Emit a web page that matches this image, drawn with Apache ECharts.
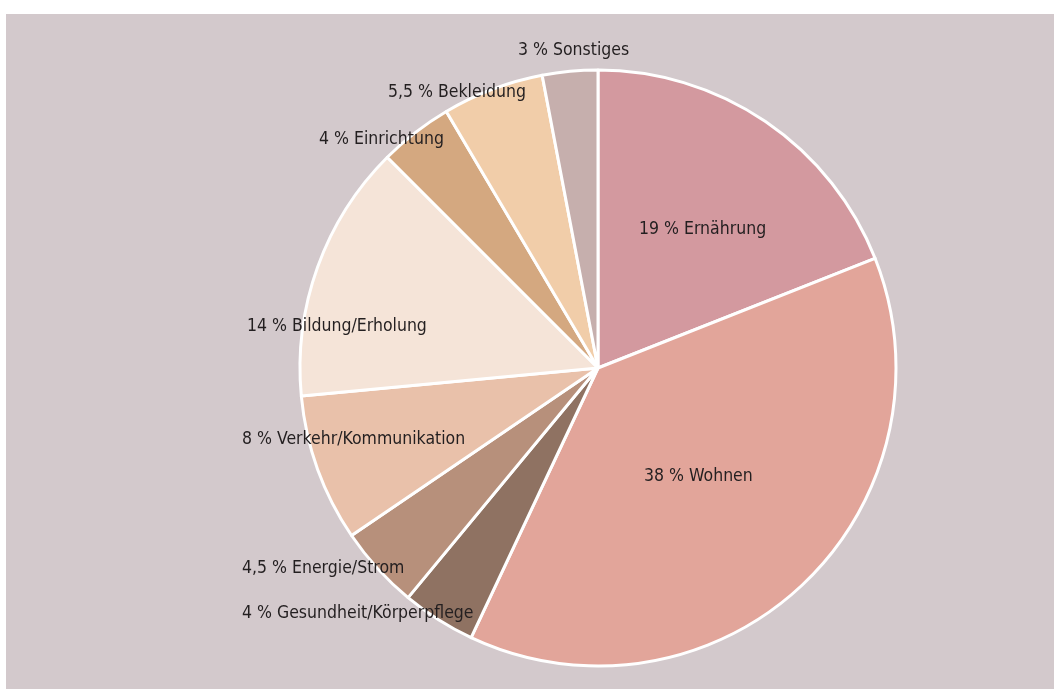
<!DOCTYPE html>
<html>
<head>
<meta charset="utf-8">
<script src="https://cdn.jsdelivr.net/npm/echarts@6/dist/echarts.min.js"></script>
<style>
html,body{margin:0;padding:0;background:#ffffff;}
#chart{width:1054px;height:689px;}
</style>
</head>
<body>
<div id="chart"></div>
<script>
const categories = ["Ernährung","Wohnen","Gesundheit/Körperpflege","Energie/Strom","Verkehr/Kommunikation","Bildung/Erholung","Einrichtung","Bekleidung","Sonstiges"];
const values = [19, 38, 4, 4.5, 8, 14, 4, 5.5, 3];
const valueLabels = ["19","38","4","4,5","8","14","4","5,5","3"];
const colors = ["#d3999f","#e2a59a","#8f7262","#b7907b","#e9c1aa","#f5e4d8","#d4a880","#f1cda9","#c6afad"];
// label anchor (left edge, vertical middle) in pixels
const labelPos = [[639,229],[644,476],[242,613],[242,568],[242,439],[247,326],[319,139],[388,92],[518,50]];

const chart = echarts.init(document.getElementById('chart'), null, {renderer:'canvas'});
const data = categories.map((c,i)=>({name:c, value:values[i], itemStyle:{color:colors[i]}}));
chart.setOption({
  animation:false,
  backgroundColor:'#ffffff',
  graphic:[{type:'rect', z:-10, shape:{x:6,y:14,width:1048,height:675}, style:{fill:'#d3c9cc'}}],
  series:[{
    type:'pie',
    center:[598,368],
    radius:[0,298],
    startAngle:90,
    clockwise:true,
    data:data,
    itemStyle:{borderColor:'#ffffff', borderWidth:3},
    label:{
      show:true,
      position:'inside',
      fontFamily:"'DejaVu Sans Condensed',sans-serif",
      fontSize:17.5,
      color:'#231f20',
      formatter:function(p){return valueLabels[p.dataIndex]+' % '+p.name;}
    },
    labelLine:{show:false},
    labelLayout:function(p){
      const pos = labelPos[p.dataIndex];
      return {x:pos[0], y:pos[1], align:'left', verticalAlign:'middle', hideOverlap:false};
    },
    emphasis:{disabled:true}
  }]
});
</script>
</body>
</html>
